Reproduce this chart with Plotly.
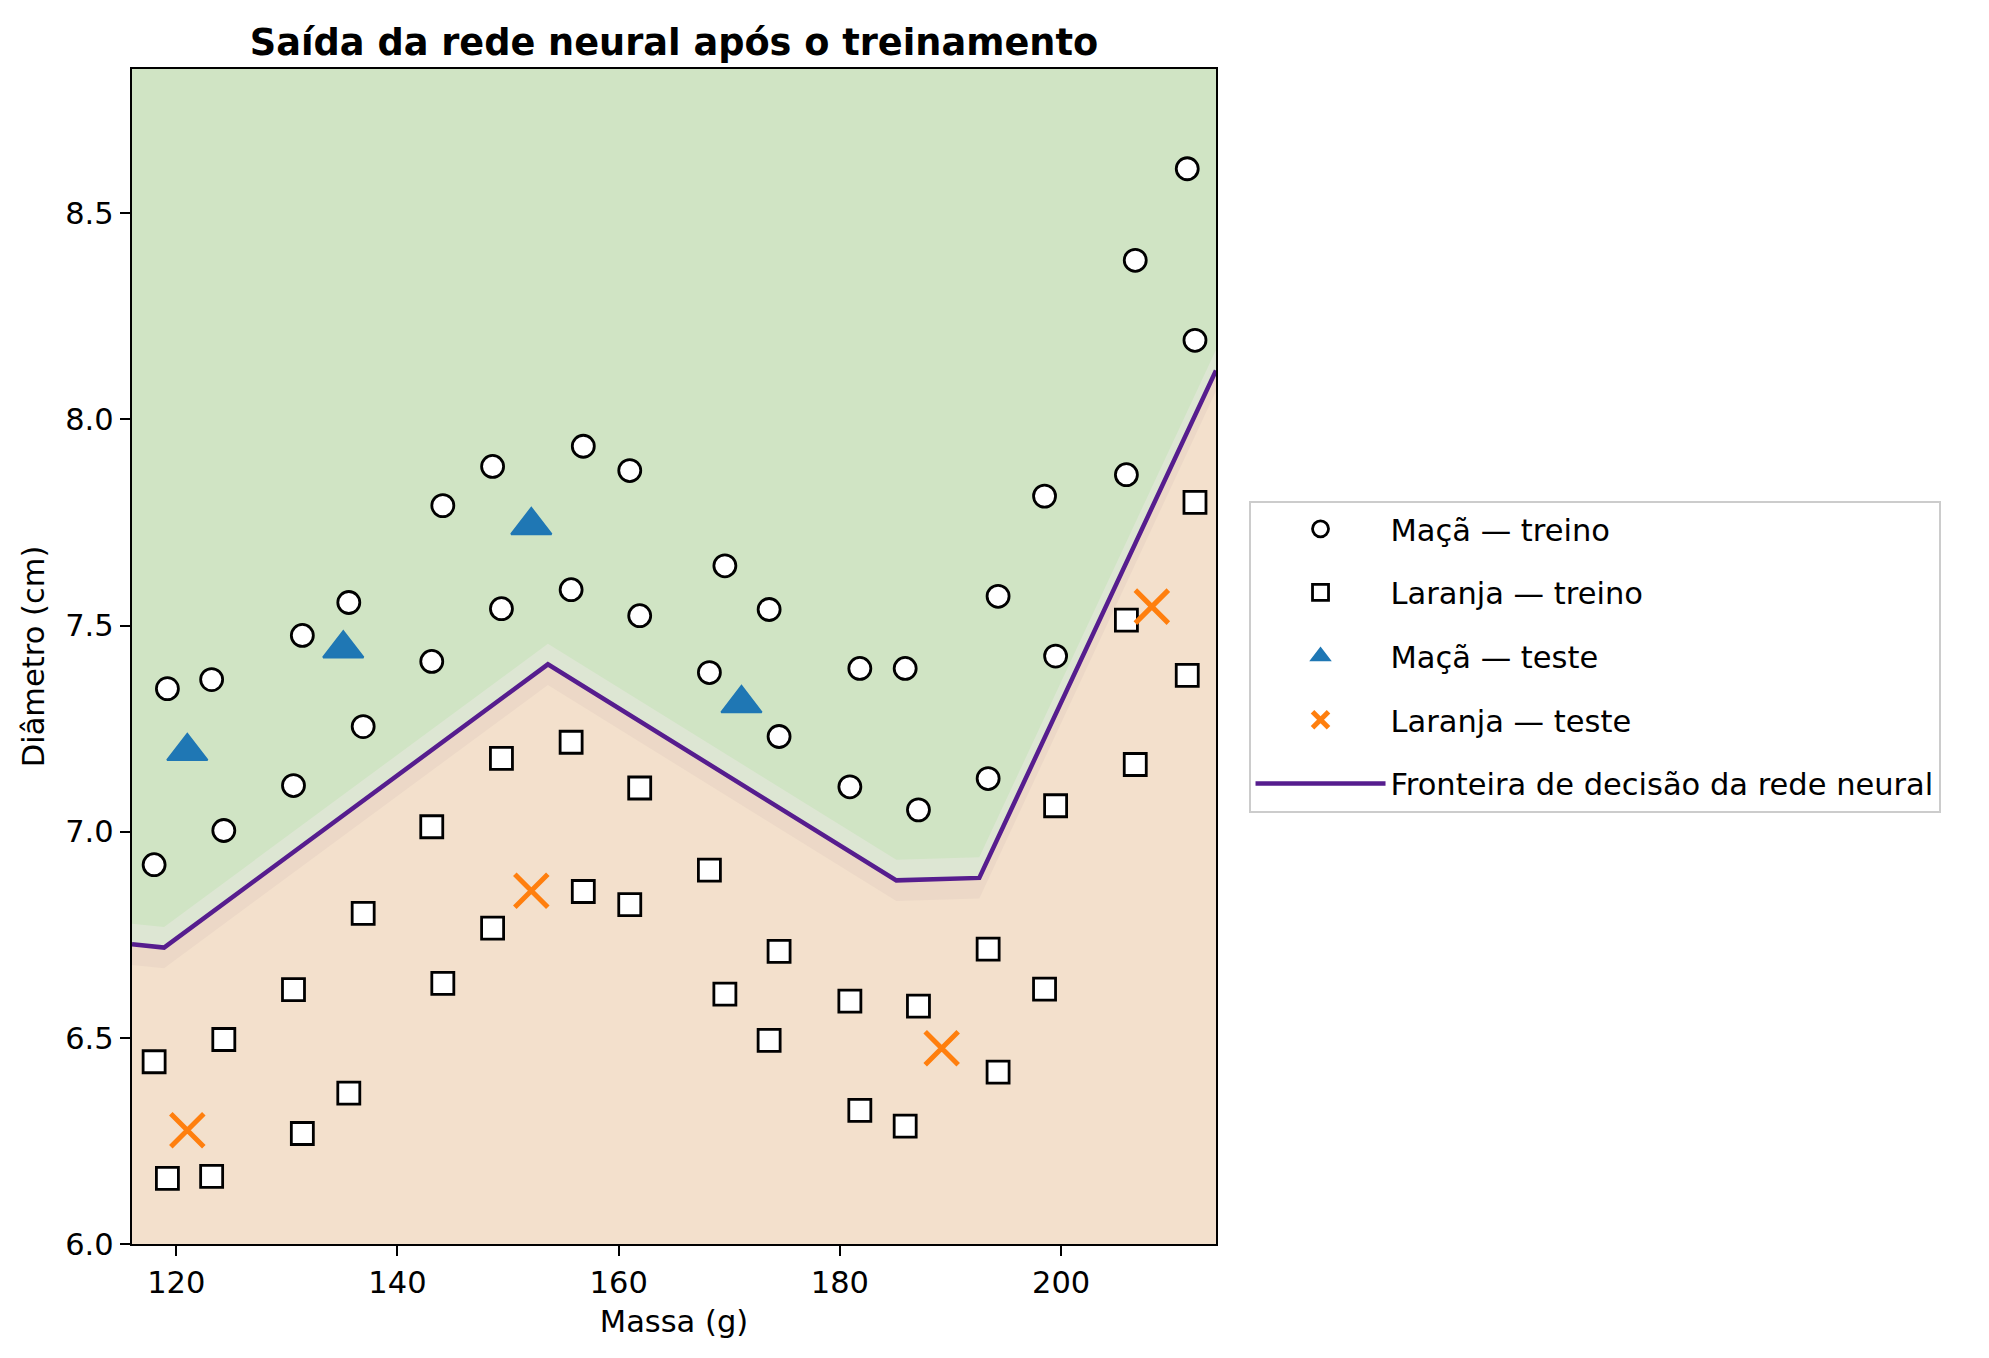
import plotly.graph_objects as go
import numpy as np

# massa (g) dos pares treino - cada massa tem uma maçã e uma laranja
mass_train = [118.0, 119.2, 123.2, 124.3, 130.6, 131.4, 135.6, 136.9,
              143.1, 144.1, 148.6, 149.4, 155.7, 156.8, 161.0, 161.9,
              168.2, 169.6, 173.6, 174.5, 180.9, 181.8, 185.9, 187.1,
              193.4, 194.3, 198.5, 199.5, 205.9, 206.7, 211.4, 212.1]
apple_diam = [6.920, 7.347, 7.369, 7.003, 7.112, 7.476, 7.556, 7.255,
              7.413, 7.791, 7.886, 7.541, 7.587, 7.935, 7.876, 7.524,
              7.386, 7.645, 7.539, 7.231, 7.109, 7.396, 7.396, 7.053,
              7.129, 7.571, 7.814, 7.426, 7.866, 8.386, 8.608, 8.192]
orange_diam = [6.442, 6.159, 6.164, 6.496, 6.617, 6.268, 6.366, 6.802,
               7.012, 6.632, 6.766, 7.178, 7.217, 6.855, 6.823, 7.106,
               6.907, 6.606, 6.494, 6.710, 6.589, 6.324, 6.286, 6.577,
               6.715, 6.417, 6.618, 7.063, 7.513, 7.163, 7.379, 7.799]

# teste
apple_test_mass = [121.0, 135.1, 152.1, 171.1]
apple_test_diam = [7.195, 7.444, 7.743, 7.311]
orange_test_mass = [121.0, 152.1, 189.2, 208.2]
orange_test_diam = [6.276, 6.857, 6.475, 7.546]

# fronteira de decisão
boundary_x = [116.0, 118.9, 153.6, 185.1, 192.6, 214.0]
boundary_y = [6.727, 6.719, 7.406, 6.882, 6.888, 8.119]

BAND = 0.05
FONT = "DejaVu Sans"
FS = 30.5

# a página tem 8px de margem no body
W, H = 1989 - 16, 1358 - 16

fig = go.Figure()

## regiões de saída (faixas em volta da fronteira)
by = np.array(boundary_y)
fig.add_trace(go.Scatter(x=boundary_x, y=by + BAND, mode='lines', fill='tozeroy',
                         fillcolor='#dde6d3', line=dict(width=0), showlegend=False, hoverinfo='skip'))
fig.add_trace(go.Scatter(x=boundary_x, y=by, mode='lines', fill='tozeroy',
                         fillcolor='#ecd8c7', line=dict(width=0), showlegend=False, hoverinfo='skip'))
fig.add_trace(go.Scatter(x=boundary_x, y=by - BAND, mode='lines', fill='tozeroy',
                         fillcolor='#f3e0cc', line=dict(width=0), showlegend=False, hoverinfo='skip'))

fig.add_trace(go.Scatter(
    x=boundary_x, y=boundary_y, mode='lines',
    name='Fronteira de decisão da rede neural',
    line=dict(color='#561d8e', width=4.5),
    legendrank=5, legendgroup='e'
))

fig.add_trace(go.Scatter(
    x=mass_train, y=apple_diam, mode='markers', name='Maçã — treino',
    marker=dict(symbol='circle', size=22, color='white', line=dict(color='black', width=2.8)),
    legendrank=1, legendgroup='a'
))
fig.add_trace(go.Scatter(
    x=mass_train, y=orange_diam, mode='markers', name='Laranja — treino',
    marker=dict(symbol='square', size=22, color='white', line=dict(color='black', width=2.8)),
    legendrank=2, legendgroup='b'
))
fig.add_trace(go.Scatter(
    x=apple_test_mass, y=apple_test_diam, mode='markers', name='Maçã — teste',
    marker=dict(symbol='triangle-up', size=35, color='#1f77b4', line=dict(color='#1f77b4', width=2)),
    legendrank=3, legendgroup='c'
))
fig.add_trace(go.Scatter(
    x=orange_test_mass, y=orange_test_diam, mode='markers', name='Laranja — teste',
    marker=dict(symbol='x-thin', size=33, color='#ff7f0e', line=dict(color='#ff7f0e', width=5)),
    legendrank=4, legendgroup='d'
))

fig.update_layout(
    width=W, height=H,
    margin=dict(l=124, r=W - 1208, t=61, b=H - 1236),
    paper_bgcolor='white',
    plot_bgcolor='#d0e4c4',
    font=dict(family=FONT, size=FS, color='black'),
    title=dict(text='<b>Saída da rede neural após o treinamento</b>',
               x=0.5, xref='paper', xanchor='center',
               y=1 - 34 / H, yref='container', yanchor='middle',
               font=dict(family=FONT, size=36.7, color='black')),
    legend=dict(x=1.03, xanchor='left', y=0.5, yanchor='middle',
                bgcolor='white', bordercolor='#cccccc', borderwidth=2,
                font=dict(family=FONT, size=FS), tracegroupgap=21,
                itemsizing='trace', itemwidth=130),
    showlegend=True,
)
fig.update_xaxes(
    range=[116.0, 214.0], tickvals=[120, 140, 160, 180, 200],
    showgrid=False, zeroline=False,
    showline=True, linecolor='black', linewidth=2.4, mirror=True,
    ticks='outside', ticklen=10, tickwidth=2.2, tickcolor='black',
    title=dict(text='Massa (g)', standoff=12, font=dict(size=FS))
)
fig.update_yaxes(
    range=[6.0, 8.85], tickvals=[6.0, 6.5, 7.0, 7.5, 8.0, 8.5], tickformat='.1f',
    showgrid=False, zeroline=False,
    showline=True, linecolor='black', linewidth=2.4, mirror=True,
    ticks='outside', ticklen=10, tickwidth=2.2, tickcolor='black',
    title=dict(text='Diâmetro (cm)', standoff=12, font=dict(size=FS))
)

fig.write_html("out.html")
